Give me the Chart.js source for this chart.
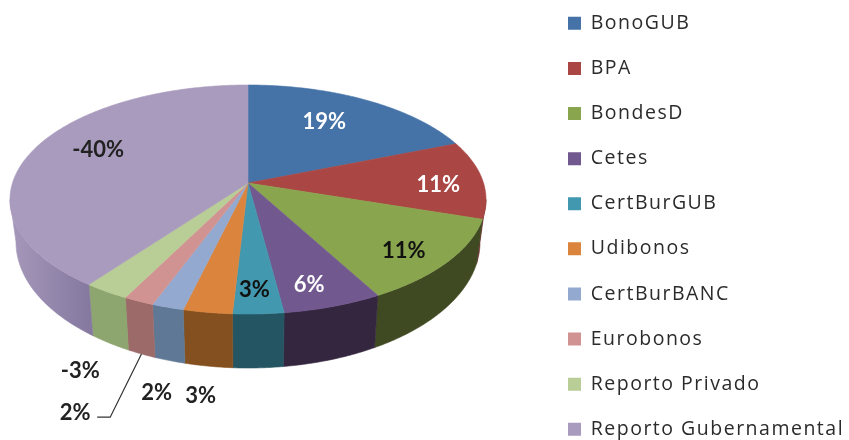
<!DOCTYPE html>
<html>
<head>
<meta charset="utf-8">
<style>
html,body{margin:0;padding:0;background:#fff;overflow:hidden}
#wrap{width:849px;height:440px;filter:blur(.45px)}
</style>
<script src="https://cdn.jsdelivr.net/npm/chart.js@4"></script>
</head>
<body>
<div id="wrap"><canvas id="c" width="849" height="440"></canvas></div>
<script>
const categories = ['BonoGUB','BPA','BondesD','Cetes','CertBurGUB','Udibonos','CertBurBANC','Eurobonos','Reporto Privado','Reporto Gubernamental'];
const sliceValues = [19,11,12,5.9,3,2.9,1.9,1.8,2.7,39.8];
const percentLabels = ['19%','11%','11%','6%','3%','3%','2%','2%','-3%','-40%'];
const topColors = ['#4572A7','#AA4643','#89A54E','#71588F','#4198AF','#DB843D','#93A9CF','#D19392','#B9CD96','#A99BBD'];
const sideColors = ['#2f4f75','#6d2c2a','#3f4a22','#35263f','#235563','#85501f','#5f7896','#9c6a68','#8da56f','#8679a0'];
const labelColors = ['#fff','#fff','#111','#fff','#111','#222','#222','#222','#222','#222'];
const labelOffsets = [[-42,22],[-44,5],[-44,-11],[-24,-22],[-4,-24],[-7,84],[-11,86],[-63.5,112],[-26,79],[64,1]];
const leaderSlice = 7;
const fadedSideSlice = 9;
const fadedSideColor = '#a598ba';

const topFace = {cx:248,cy:199.5,rx:238,ry:114.5};
const baseFace = {cx:248,cy:242,rx:232,ry:126};
const tilt = -0.144;

function rim(face,a){
  const u=Math.cos(a),v=Math.sin(a),d=1+tilt*v;
  return [face.cx+face.rx*u*Math.sqrt(1-tilt*tilt)/d, face.cy+face.ry*(v+tilt)/d];
}
function hub(){return [topFace.cx, topFace.cy+topFace.ry*tilt];}
function tracePath(ctx,pts){ctx.beginPath();pts.forEach((p,i)=>i?ctx.lineTo(p[0],p[1]):ctx.moveTo(p[0],p[1]));ctx.closePath();}
function samples(lo,hi){const out=[],n=Math.max(2,Math.ceil((hi-lo)/0.01));for(let i=0;i<=n;i++)out.push(lo+(hi-lo)*i/n);return out;}

const pie3d = {
  id:'pie3d',
  afterLayout(chart){
    const lg=chart.legend;
    lg.left=542.4;lg.right=849;lg.top=-12;lg.bottom=1000;
    const col={width:306,height:500};
    lg.columnSizes=[col,col,col,col];
    lg.lineWidths=[306,306,306,306];
  },
  beforeDraw(chart){chart.ctx.letterSpacing='1.5px';},
  beforeDatasetsDraw(chart){chart.ctx.letterSpacing='0px';},
  beforeDatasetDraw(chart,args){
    const ctx=chart.ctx,arcs=args.meta.data;
    const a0=Math.asin(-tilt),a1=Math.PI-a0;
    ctx.save();
    ctx.lineWidth=.6;
    arcs.forEach((arc,i)=>{
      const lo=Math.max(arc.startAngle,a0),hi=Math.min(arc.endAngle,a1);
      if(hi<=lo)return;
      const s=samples(lo,hi);
      const pts=s.map(a=>rim(topFace,a)).concat(s.slice().reverse().map(a=>rim(baseFace,a)));
      let paint=sideColors[i];
      if(i===fadedSideSlice){
        const g=ctx.createLinearGradient(rim(topFace,hi)[0],0,rim(topFace,lo)[0],0);
        g.addColorStop(0,fadedSideColor);g.addColorStop(1,sideColors[i]);
        paint=g;
      }
      tracePath(ctx,pts);
      ctx.fillStyle=ctx.strokeStyle=paint;
      ctx.fill();ctx.stroke();
    });
    arcs.forEach((arc,i)=>{
      const pts=[hub()].concat(samples(arc.startAngle,arc.endAngle).map(a=>rim(topFace,a)));
      tracePath(ctx,pts);
      ctx.fillStyle=ctx.strokeStyle=arc.options.backgroundColor;
      ctx.fill();ctx.stroke();
    });
    ctx.restore();
    return false;
  },
  afterDatasetsDraw(chart){
    const ctx=chart.ctx,arcs=chart.getDatasetMeta(0).data;
    ctx.save();
    ctx.font='700 22px Lato';
    ctx.textAlign='center';ctx.textBaseline='middle';
    arcs.forEach((arc,i)=>{
      const p=rim(topFace,(arc.startAngle+arc.endAngle)/2);
      const o=labelOffsets[i];
      ctx.fillStyle=labelColors[i];
      ctx.fillText(percentLabels[i],p[0]+o[0],p[1]+o[1]);
    });
    const arc=arcs[leaderSlice],mid=(arc.startAngle+arc.endAngle)/2;
    const b=rim(baseFace,mid),t=rim(topFace,mid),o=labelOffsets[leaderSlice];
    const ex=t[0]+o[0]+35,ey=t[1]+o[1]+4;
    ctx.strokeStyle='#333';ctx.lineWidth=1.2;
    ctx.beginPath();ctx.moveTo(b[0],b[1]);ctx.lineTo(ex,ey);ctx.lineTo(ex-13,ey);ctx.stroke();
    ctx.restore();
  }
};

new Chart(document.getElementById('c'),{
  type:'pie',
  plugins:[pie3d],
  data:{labels:categories,datasets:[{data:sliceValues,backgroundColor:topColors,borderWidth:0}]},
  options:{
    responsive:false,animation:false,
    plugins:{
      tooltip:{enabled:false},
      legend:{
        position:'right',align:'start',
        labels:{boxWidth:13,boxHeight:13,padding:25.6,color:'#2b2b2b',font:{family:'Open Sans',size:19.5}}
      }
    }
  }
});
</script>
</body>
</html>
